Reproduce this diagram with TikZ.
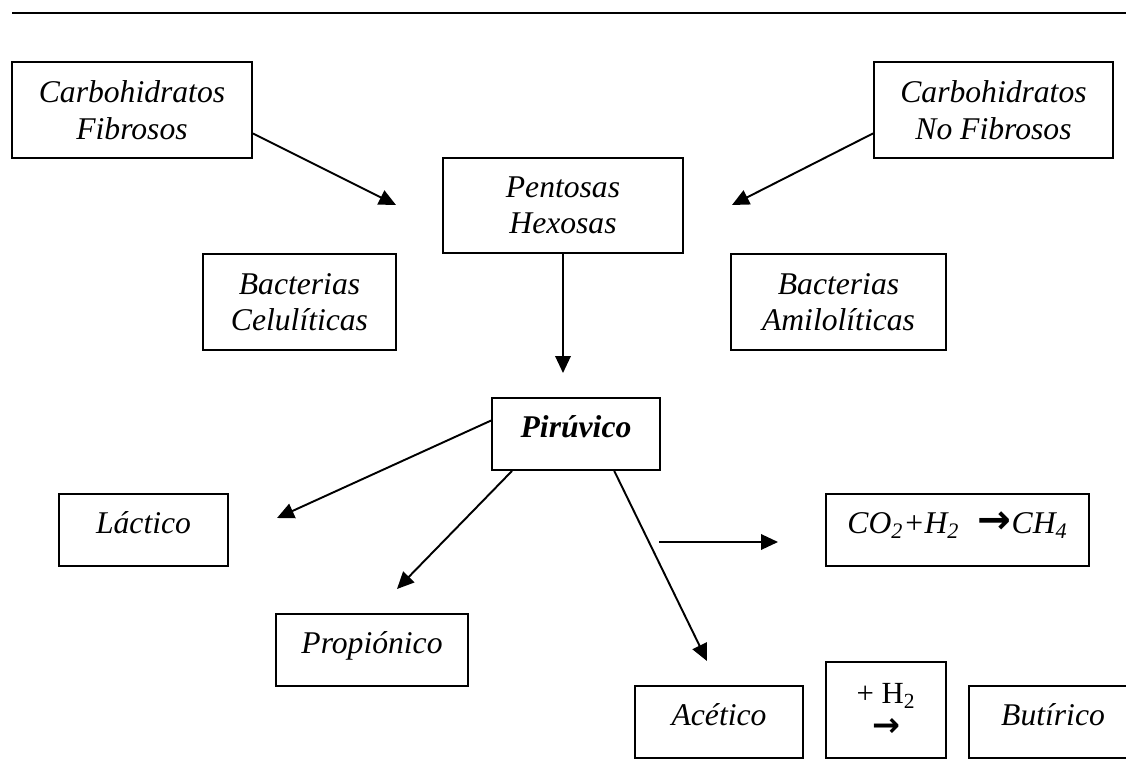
\documentclass[tikz,border=0pt]{standalone}
\usepackage{fontspec}
\setmainfont{Liberation Serif}
\newfontfamily\fuenteflecha{DejaVu Sans}
\usetikzlibrary{arrows.meta}

\begin{document}
\begin{tikzpicture}[x=0.02cm, y=-0.02cm,
  caja/.style={draw, line width=1.1pt, inner sep=0pt, align=center,
    font=\itshape\fontsize{18}{20.8}\selectfont},
  alta/.style={caja, minimum height=1.92cm},
  baja/.style={caja, minimum height=1.44cm, text height=12.6pt, text depth=8.1pt}
]
\clip (0,0) rectangle (1126,774);
\draw[line width=1.1pt] (12,13) -- (1126,13);
% cajas
\node[alta, minimum width=4.8cm]  (cfib)   at (132,110)   {Carbohidratos\\Fibrosos};
\node[alta, minimum width=4.78cm] (cnofib) at (993.5,110) {Carbohidratos\\No Fibrosos};
\node[alta, minimum width=4.8cm, minimum height=1.9cm] (pent) at (563,205.5) {Pentosas\\Hexosas};
\node[alta, minimum width=3.86cm] (bcel)   at (299.5,302) {Bacterias\\Celulíticas};
\node[alta, minimum width=4.3cm]  (bamil)  at (838.5,302) {Bacterias\\Amilolíticas};
\node[baja, minimum width=3.36cm] (piru)   at (576,434)   {\bfseries Pirúvico};
\node[baja, minimum width=3.38cm] (lact)   at (143.5,530) {Láctico};
\node[baja, minimum width=3.84cm] (prop)   at (372,650)   {Propiónico};
\node[baja, minimum width=5.26cm] (metano) at (957.5,530)
  {CO\textsubscript{2}+H\textsubscript{2}\,\, {\upshape\fuenteflecha\bfseries\fontsize{23}{23}\selectfont →}CH\textsubscript{4}};
\node[baja, minimum width=3.36cm] (acet)   at (719,722)   {Acético};
\node[alta, minimum width=2.4cm, font=\upshape\fontsize{17.5}{18.5}\selectfont]
  (hdos) at (886,710) {+ H\textsubscript{2}\\{\fuenteflecha\bfseries\fontsize{19}{18.5}\selectfont →}};
\node[baja, minimum width=3.36cm] (buti)   at (1053,722)  {Butírico};
% puntas libres
\coordinate (t1) at (396,205);
\coordinate (t2) at (732,205);
\coordinate (t3) at (563,373);
\coordinate (t4) at (277,518);
\coordinate (t5) at (397,589);
\coordinate (t6) at (707,661);
\coordinate (h1) at (659,542);
\coordinate (h2) at (778,542);
\path[->, line width=1.1pt, >={Triangle[length=3.4mm,width=3.1mm]}]
(cfib.-11.7) edge (t1)
(cnofib.191.4) edge (t2)
(pent.south) edge (t3)
(piru.171.9) edge (t4)
(piru.210.5) edge (t5)
(piru.-44.2) edge (t6)
(h1) edge (h2)
;
\end{tikzpicture}
\end{document}
